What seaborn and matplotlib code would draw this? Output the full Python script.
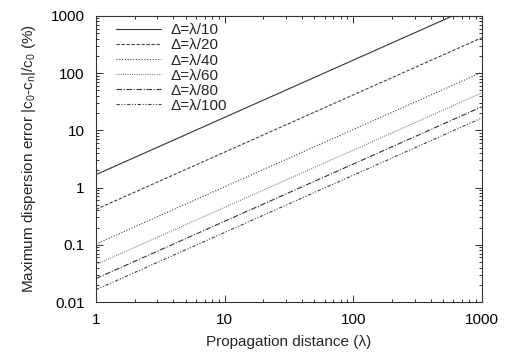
import matplotlib
matplotlib.use("Agg")
import matplotlib.pyplot as plt
import seaborn as sns
import pandas as pd
from matplotlib.ticker import LogLocator, FuncFormatter, NullFormatter

sns.set_theme(style="ticks")
plt.rcParams['font.family'] = ['Liberation Sans', 'DejaVu Sans']
plt.rcParams['mathtext.fontset'] = 'custom'
plt.rcParams['mathtext.rm'] = 'Liberation Sans'
plt.rcParams['mathtext.default'] = 'regular'

# Data
distance = [1, 1000]
labels = ["Δ=λ/10", "Δ=λ/20", "Δ=λ/40", "Δ=λ/60", "Δ=λ/80", "Δ=λ/100"]
err_10 = [1.68, 1680]
err_20 = [0.415, 415]
err_40 = [0.103, 103]
err_60 = [0.045, 45]
err_80 = [0.0257, 25.7]
err_100 = [0.0164, 16.4]
series = [err_10, err_20, err_40, err_60, err_80, err_100]

styles = [
    dict(linestyle='-', color='#333333', lw=0.8),
    dict(linestyle=(0, (3, 1.5)), color='#444444', lw=0.8),
    dict(linestyle=(0, (1, 1.5)), color='#444444', lw=0.8),
    dict(linestyle=(0, (0.8, 1.2)), color='#666666', lw=0.8),
    dict(linestyle=(0, (5, 1.5, 1, 1.5)), color='#333333', lw=0.8),
    dict(linestyle=(0, (3, 1.5, 1, 1.5, 1, 1.5)), color='#444444', lw=0.8),
]

fig, ax = plt.subplots(figsize=(5.05, 3.52), dpi=100)
fig.subplots_adjust(left=0.19, right=0.954, top=0.955, bottom=0.142)

for lab, vals, st in zip(labels, series, styles):
    df = pd.DataFrame({"x": distance, "y": vals})
    sns.lineplot(data=df, x="x", y="y", ax=ax, label=lab, **st)

ax.set_xscale('log')
ax.set_yscale('log')
ax.set_xlim(1, 1000)
ax.set_ylim(0.01, 1000)

fmt = FuncFormatter(lambda v, p: f"{v:g}")
ax.xaxis.set_major_formatter(fmt)
ax.yaxis.set_major_formatter(fmt)
ax.xaxis.set_minor_locator(LogLocator(base=10, subs=range(2, 10)))
ax.yaxis.set_minor_locator(LogLocator(base=10, subs=range(2, 10)))
ax.xaxis.set_minor_formatter(NullFormatter())
ax.yaxis.set_minor_formatter(NullFormatter())

ax.tick_params(which='both', direction='in', top=True, right=True, colors='#333333',
               labelcolor='black', labelsize=11, width=0.7)
ax.tick_params(which='major', length=5, pad=8)
ax.tick_params(which='minor', length=2.5)
for s in ax.spines.values():
    s.set_linewidth(0.8)
    s.set_color('#333333')

ax.set_xlabel("Propagation distance (λ)", fontsize=11, labelpad=6)
ax.set_ylabel("Maximum dispersion error |c$_0$-c$_n$|/c$_0$ (%)", fontsize=11, labelpad=9)

leg = ax.legend(loc='upper left', frameon=False, fontsize=11, handlelength=3.0,
                handletextpad=0.6, labelspacing=0.07, borderaxespad=0.0,
                bbox_to_anchor=(0.035, 0.995))

fig.savefig("out.png", dpi=100)
